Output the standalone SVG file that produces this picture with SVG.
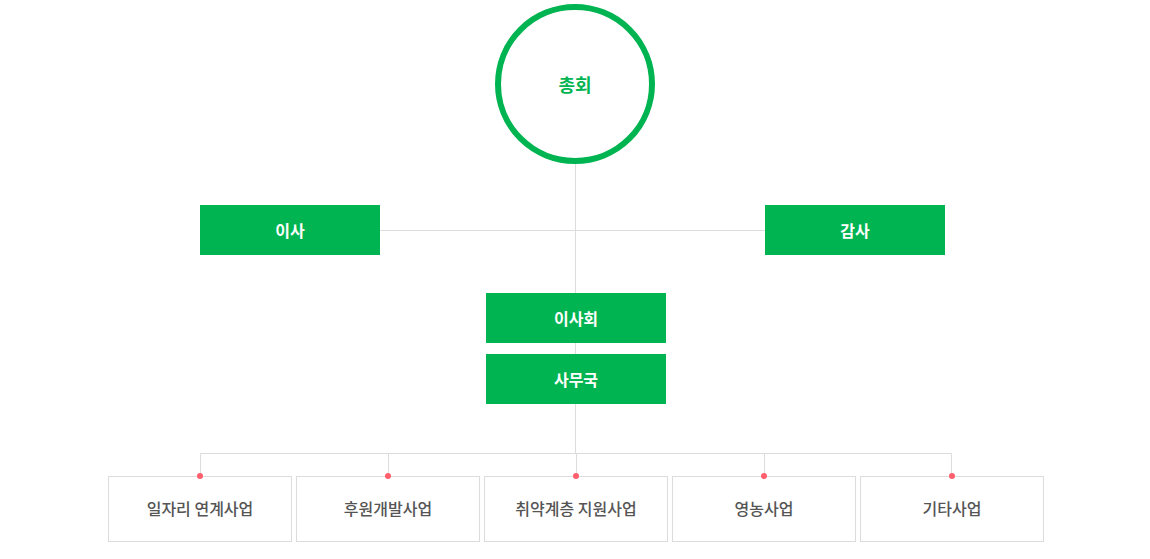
<svg xmlns="http://www.w3.org/2000/svg" width="1150" height="559" viewBox="0 0 1150 559">
<style>
.t{font-family:"Noto Sans CJK KR","Noto Sans",sans-serif;text-anchor:middle;dominant-baseline:central}
.g{fill:#00b451}
.gt{fill:#fff;font-size:16px;font-weight:bold}
.wb{fill:#fff;stroke:#dcdcdc;stroke-width:1}
.wt{fill:#555;font-size:16px;font-weight:500}
.ln{stroke:#dcdcdc;stroke-width:1;fill:none}
.dot{fill:#ff5e6c}
</style>
<rect width="1150" height="559" fill="#fff"/>
<g id="connectors">
<line class="ln" x1="575.5" y1="164" x2="575.5" y2="453.5"/>
<line class="ln" x1="380" y1="230.5" x2="765" y2="230.5"/>
<path class="ln" d="M200.5 476V453.5H951.5V476M388.5 453.5V476M576.5 453.5V476M764.5 453.5V476"/>
</g>
<g id="n-general">
<circle cx="575" cy="84" r="77" fill="#fff" stroke="#00b451" stroke-width="6"/>
<text class="t" x="575" y="84" fill="#00b451" font-size="18" font-weight="bold">총회</text>
</g>
<g id="n-director"><rect class="g" x="200" y="205" width="180" height="50"/><text class="t gt" x="290" y="230">이사</text></g>
<g id="n-auditor"><rect class="g" x="765" y="205" width="180" height="50"/><text class="t gt" x="855" y="230">감사</text></g>
<g id="n-board"><rect class="g" x="486" y="293" width="180" height="50"/><text class="t gt" x="576" y="318">이사회</text></g>
<g id="n-office"><rect class="g" x="486" y="354" width="180" height="50"/><text class="t gt" x="576" y="379">사무국</text></g>
<g id="n-b1"><rect class="wb" x="108.5" y="476.5" width="183" height="65"/><circle class="dot" cx="200" cy="476" r="3"/><text class="t wt" x="200" y="508">일자리 연계사업</text></g>
<g id="n-b2"><rect class="wb" x="296.5" y="476.5" width="183" height="65"/><circle class="dot" cx="388" cy="476" r="3"/><text class="t wt" x="388" y="508">후원개발사업</text></g>
<g id="n-b3"><rect class="wb" x="484.5" y="476.5" width="183" height="65"/><circle class="dot" cx="576" cy="476" r="3"/><text class="t wt" x="576" y="508">취약계층 지원사업</text></g>
<g id="n-b4"><rect class="wb" x="672.5" y="476.5" width="183" height="65"/><circle class="dot" cx="764" cy="476" r="3"/><text class="t wt" x="764" y="508">영농사업</text></g>
<g id="n-b5"><rect class="wb" x="860.5" y="476.5" width="183" height="65"/><circle class="dot" cx="952" cy="476" r="3"/><text class="t wt" x="952" y="508">기타사업</text></g>
</svg>
